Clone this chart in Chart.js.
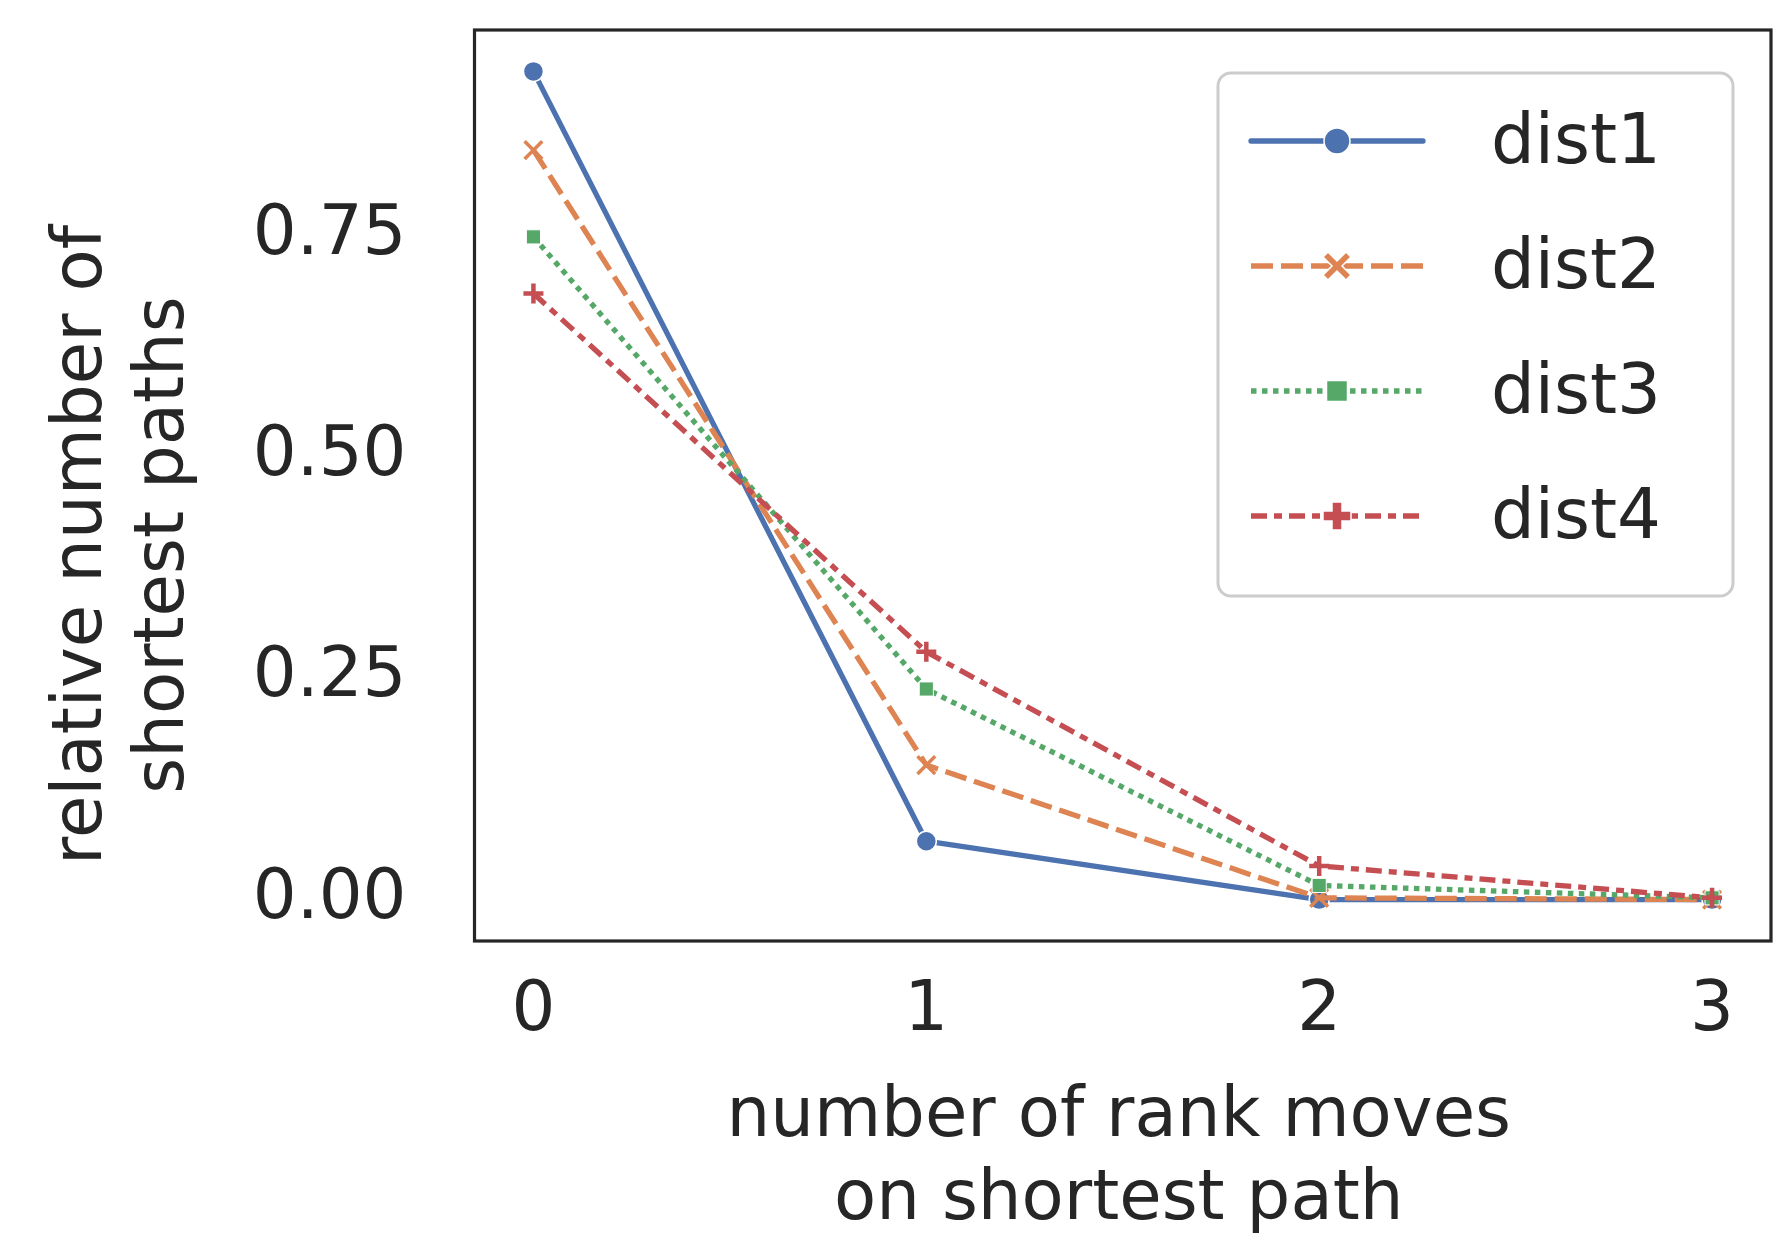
<!DOCTYPE html>
<html><head><meta charset="utf-8">
<script src="https://cdn.jsdelivr.net/npm/chart.js@4.4.0/dist/chart.umd.min.js"></script>
<style>html,body{margin:0;padding:0;background:#fff;overflow:hidden;}</style>
</head><body>
<canvas id="c" width="1787" height="1233"></canvas>
<script>
// ---- data ----
const moves = [0, 1, 2, 3];
const dist1 = [0.936, 0.066, 0.0, 0.0];
const dist2 = [0.847, 0.152, 0.002, 0.0];
const dist3 = [0.749, 0.238, 0.016, 0.002];
const dist4 = [0.685, 0.280, 0.038, 0.002];
const seriesNames = ['dist1', 'dist2', 'dist3', 'dist4'];
const xTickValues = [0, 1, 2, 3];
const yTickValues = [0, 0.25, 0.5, 0.75];
const xTitle = ['number of rank moves', 'on shortest path'];
const yTitle = ['relative number of', 'shortest paths'];

// ---- styles ----
const FONT = 'DejaVu Sans';
const FS = 69;
const TXT = '#262626';
const colors = ['#4C72B0', '#DD8452', '#55A868', '#C44E52'];
const dashes = [[], [22, 8], [5.5, 5.5], [16, 7, 8, 7]];
const pStyles = ['circle', 'crossRot', 'rect', 'cross'];
const pRadius = [10, 12.5, 10, 10];
const pBorderW = [1.5, 3.5, 1, 4.5];

const allSeries = [dist1, dist2, dist3, dist4];
const datasets = allSeries.map((vals, i) => ({
  label: seriesNames[i],
  data: moves.map((m, j) => ({x: m, y: vals[j]})),
  borderColor: colors[i],
  backgroundColor: colors[i],
  borderWidth: 5.3,
  borderDash: dashes[i],
  borderCapStyle: i === 0 ? 'round' : 'butt',
  borderJoinStyle: 'round',
  tension: 0,
  fill: false,
  pointStyle: pStyles[i],
  pointRadius: pRadius[i],
  pointHoverRadius: pRadius[i],
  pointBackgroundColor: colors[i],
  pointBorderColor: (i === 0 || i === 2) ? '#ffffff' : colors[i],
  pointBorderWidth: pBorderW[i],
  order: 3 - i
}));

function drawLegendMarker(ctx, i, cx, cy) {
  ctx.save();
  ctx.setLineDash([]);
  ctx.fillStyle = colors[i];
  ctx.strokeStyle = '#ffffff';
  ctx.lineWidth = 1.5;
  ctx.beginPath();
  if (i === 0) {
    ctx.arc(cx, cy, 13, 0, Math.PI * 2);
  } else if (i === 1) {
    const a = 14, w = 5;
    const pts = [[-a + w, -a], [0, -w], [a - w, -a], [a, -a + w], [w, 0], [a, a - w], [a - w, a], [0, w], [-a + w, a], [-a, a - w], [-w, 0], [-a, -a + w]];
    pts.forEach((p, k) => k ? ctx.lineTo(cx + p[0], cy + p[1]) : ctx.moveTo(cx + p[0], cy + p[1]));
    ctx.closePath();
  } else if (i === 2) {
    ctx.rect(cx - 10.5, cy - 10.5, 21, 21);
  } else {
    const a = 14, w = 5;
    const pts = [[-w, -a], [w, -a], [w, -w], [a, -w], [a, w], [w, w], [w, a], [-w, a], [-w, w], [-a, w], [-a, -w], [-w, -w]];
    pts.forEach((p, k) => k ? ctx.lineTo(cx + p[0], cy + p[1]) : ctx.moveTo(cx + p[0], cy + p[1]));
    ctx.closePath();
  }
  ctx.fill();
  ctx.stroke();
  ctx.restore();
}

function roundRect(ctx, x, y, w, h, r) {
  ctx.beginPath();
  ctx.moveTo(x + r, y);
  ctx.lineTo(x + w - r, y);
  ctx.arcTo(x + w, y, x + w, y + r, r);
  ctx.lineTo(x + w, y + h - r);
  ctx.arcTo(x + w, y + h, x + w - r, y + h, r);
  ctx.lineTo(x + r, y + h);
  ctx.arcTo(x, y + h, x, y + h - r, r);
  ctx.lineTo(x, y + r);
  ctx.arcTo(x, y, x + r, y, r);
  ctx.closePath();
}

const decor = {
  id: 'decor',
  beforeDraw(chart) {
    const ctx = chart.ctx;
    ctx.save();
    ctx.fillStyle = '#ffffff';
    ctx.fillRect(0, 0, chart.width, chart.height);
    ctx.restore();
  },
  afterDraw(chart) {
    const ctx = chart.ctx;
    const a = chart.chartArea;
    ctx.save();
    ctx.strokeStyle = TXT;
    ctx.lineWidth = 3.2;
    ctx.setLineDash([]);
    ctx.strokeRect(a.left, a.top, a.right - a.left, a.bottom - a.top);
    ctx.restore();

    ctx.save();
    ctx.fillStyle = TXT;
    ctx.font = FS + 'px "' + FONT + '"';
    ctx.textAlign = 'center';
    ctx.textBaseline = 'middle';
    const cx = (a.left + a.right) / 2 - 4;
    ctx.fillText(xTitle[0], cx, 1118);
    ctx.fillText(xTitle[1], cx, 1201);
    ctx.translate(0, 545);
    ctx.rotate(-Math.PI / 2);
    ctx.fillText(yTitle[0], 0, 83);
    ctx.fillText(yTitle[1], 0, 165);
    ctx.restore();

    ctx.save();
    const lx = 1218, ly = 73, lw = 515, lh = 523;
    roundRect(ctx, lx, ly, lw, lh, 13);
    ctx.fillStyle = 'rgba(255,255,255,0.8)';
    ctx.fill();
    ctx.strokeStyle = '#cccccc';
    ctx.lineWidth = 3;
    ctx.stroke();
    ctx.font = FS + 'px "' + FONT + '"';
    ctx.textAlign = 'left';
    ctx.textBaseline = 'alphabetic';
    seriesNames.forEach((name, i) => {
      const ry = 141 + i * 125;
      ctx.save();
      ctx.strokeStyle = colors[i];
      ctx.lineWidth = 5.3;
      ctx.setLineDash(dashes[i]);
      ctx.lineCap = i === 0 ? 'round' : 'butt';
      ctx.beginPath();
      ctx.moveTo(1251, ry);
      ctx.lineTo(1423, ry);
      ctx.stroke();
      ctx.restore();
      drawLegendMarker(ctx, i, 1337, ry);
      ctx.fillStyle = TXT;
      ctx.fillText(name, 1491, ry + 22);
    });
    ctx.restore();
  }
};

function zeroPad(s) {
  s.paddingTop = 0; s.paddingBottom = 0; s.paddingLeft = 0; s.paddingRight = 0;
}

new Chart(document.getElementById('c'), {
  type: 'line',
  data: { datasets },
  plugins: [decor],
  options: {
    responsive: false,
    animation: false,
    devicePixelRatio: 1,
    layout: { padding: { left: 0, top: 30, right: 11, bottom: 0 } },
    plugins: { legend: { display: false }, tooltip: { enabled: false } },
    scales: {
      x: {
        type: 'linear',
        min: -0.15,
        max: 3.15,
        afterBuildTicks: s => { s.ticks = xTickValues.map(v => ({ value: v })); },
        afterFit: s => { s.height = 1233 - 941; zeroPad(s); },
        grid: { display: false, drawTicks: false },
        border: { display: false },
        ticks: {
          font: { family: FONT, size: FS },
          color: TXT,
          padding: 30,
          maxRotation: 0,
          autoSkip: false,
          callback: v => String(v)
        }
      },
      y: {
        type: 'linear',
        min: -0.0468,
        max: 0.9828,
        afterBuildTicks: s => { s.ticks = yTickValues.map(v => ({ value: v })); },
        afterFit: s => { s.width = 474.5; zeroPad(s); },
        grid: { display: false, drawTicks: false },
        border: { display: false },
        ticks: {
          font: { family: FONT, size: FS },
          color: TXT,
          padding: 68,
          autoSkip: false,
          callback: v => v.toFixed(2)
        }
      }
    }
  }
});
</script>
</body></html>
